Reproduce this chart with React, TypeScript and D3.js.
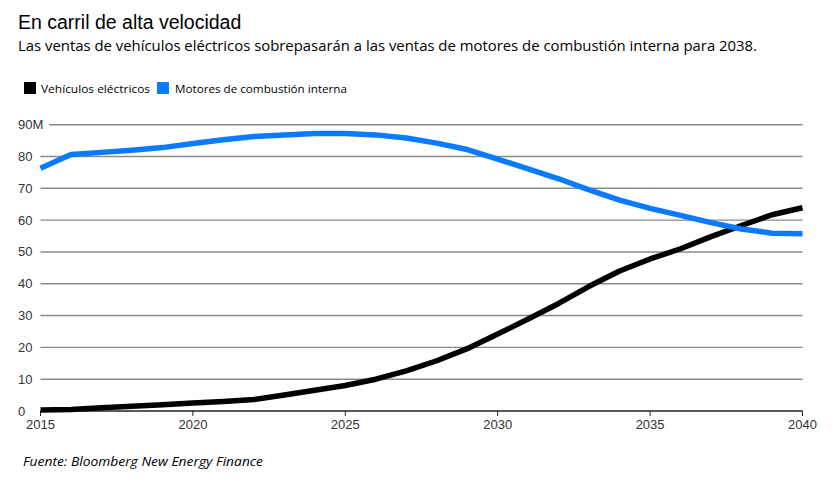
import React from "react";
import * as d3 from "d3";

const years = d3.range(2015, 2041);
const evSales = [0.3, 0.5, 1.0, 1.5, 2.0, 2.5, 3.0, 3.6, 5.0, 6.5, 8.0, 10.0, 12.6, 15.8, 19.6, 24.2, 28.9, 33.8, 39.2, 44.0, 47.8, 51.0, 54.8, 58.3, 61.7, 63.9];
const iceSales = [76.3, 80.6, 81.3, 82.0, 82.8, 84.1, 85.3, 86.3, 86.8, 87.2, 87.2, 86.8, 85.8, 84.2, 82.2, 79.2, 76.1, 73.0, 69.5, 66.3, 63.7, 61.5, 59.2, 57.2, 55.9, 55.7];
const yTicks = [0, 10, 20, 30, 40, 50, 60, 70, 80, 90];
const xTicks = [2015, 2020, 2025, 2030, 2035, 2040];
const seriesNames = ["Vehículos eléctricos", "Motores de combustión interna"];
const seriesColors = ["#000000", "#0a7aff"];

export default function App() {
  const W = 840, H = 484;
  const x = d3.scaleLinear().domain([2015, 2040]).range([40.5, 802.5]);
  const y = d3.scaleLinear().domain([0, 90]).range([411, 124.7]);
  const line = d3
    .line<number>()
    .x((_, i) => x(years[i]))
    .y((d) => y(d))
    .curve(d3.curveLinear);
  const series = [evSales, iceSales];
  const sans = "'Liberation Sans', Arial, sans-serif";
  const ui = "'Open Sans', 'Noto Sans', sans-serif";
  return (
    <svg width={W} height={H} style={{ position: "absolute", left: 0, top: 0, background: "#fff" }}>
      <rect width={W} height={H} fill="#fff" />
      <text x={18} y={29} fontFamily={sans} fontSize={19.5} fill="#000">En carril de alta velocidad</text>
      <text x={18} y={51} fontFamily={ui} fontSize={13.6} fill="#000" textLength={739} lengthAdjust="spacingAndGlyphs">
        Las ventas de vehículos eléctricos sobrepasarán a las ventas de motores de combustión interna para 2038.
      </text>
      {/* legend */}
      <rect x={24} y={82} width={12} height={12} fill={seriesColors[0]} />
      <text x={41} y={92.5} fontFamily={ui} fontSize={11.5} fill="#000" textLength={109} lengthAdjust="spacingAndGlyphs">{seriesNames[0]}</text>
      <rect x={157} y={82} width={12} height={12} fill={seriesColors[1]} />
      <text x={175} y={92.5} fontFamily={ui} fontSize={11.5} fill="#000" textLength={172} lengthAdjust="spacingAndGlyphs">{seriesNames[1]}</text>
      {/* grid */}
      {yTicks.map((t) => (
        <g key={t}>
          <line
            x1={t === 90 ? 49 : 40.5}
            x2={802.5}
            y1={y(t)}
            y2={y(t)}
            stroke={t === 0 ? "#222" : "#8a8a8a"}
            strokeWidth={1.4}
          />
          <text x={18} y={y(t) + 4.5} fontFamily={sans} fontSize={13} fill="#333">
            {t === 90 ? "90M" : t}
          </text>
        </g>
      ))}
      {xTicks.map((t) => (
        <g key={t}>
          <line x1={x(t)} x2={x(t)} y1={411} y2={416} stroke="#222" strokeWidth={1} />
          <text x={x(t)} y={429} textAnchor="middle" fontFamily={sans} fontSize={13} fill="#333">
            {t}
          </text>
        </g>
      ))}
      {series.map((s, i) => (
        <path key={i} d={line(s) || ""} fill="none" stroke={seriesColors[i]} strokeWidth={5.5} strokeLinejoin="round" />
      ))}
      <text x={23} y={465.5} fontFamily={ui} fontStyle="italic" fontSize={13.3} fill="#000" textLength={240} lengthAdjust="spacingAndGlyphs">
        Fuente: Bloomberg New Energy Finance
      </text>
    </svg>
  );
}
